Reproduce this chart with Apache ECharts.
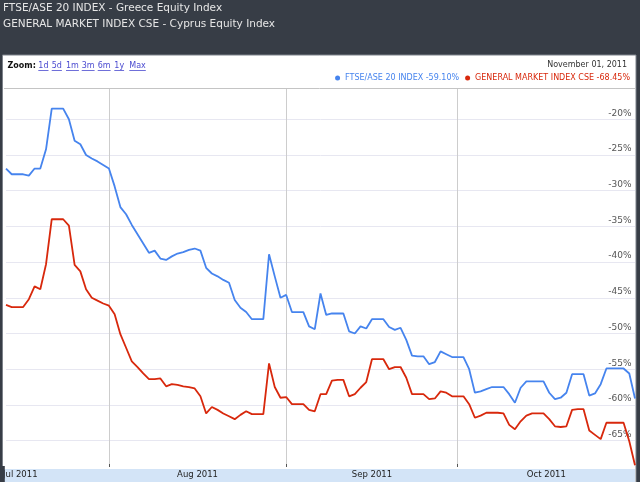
<!DOCTYPE html>
<html><head><meta charset="utf-8">
<script src="https://cdn.jsdelivr.net/npm/echarts@6/dist/echarts.min.js"></script>
<style>html,body{margin:0;padding:0;background:#373d46}#c{width:640px;height:482px}</style>
</head><body><div id="c"></div><script>
// Daily points from Jul 14, 2011 through Nov 1, 2011 (x = days since Jul 14, 2011)
const startDay = [2011, 6, 14];
const ftseAse20 = [
  -26.9, -27.7, -27.7, -27.7, -27.9, -26.9, -26.9, -24.2, -18.5, -18.5,
  -18.5, -20.0, -23.0, -23.5, -25.0, -25.5, -25.9, -26.4, -26.9, -29.4,
  -32.3, -33.3, -34.8, -36.1, -37.4, -38.7, -38.4, -39.5, -39.7, -39.2,
  -38.8, -38.6, -38.3, -38.1, -38.4, -40.8, -41.6, -42.0, -42.5, -42.9,
  -45.3, -46.4, -47.0, -48.0, -48.0, -48.0, -38.9, -42.0, -45.0, -44.6,
  -47.0, -47.0, -47.0, -49.0, -49.4, -44.4, -47.4, -47.2, -47.2, -47.2,
  -49.7, -50.0, -49.0, -49.3, -48.0, -48.0, -48.0, -49.1, -49.5, -49.2,
  -50.9, -53.1, -53.2, -53.2, -54.3, -54.0, -52.5, -52.9, -53.3, -53.3,
  -53.3, -55.0, -58.3, -58.1, -57.8, -57.5, -57.5, -57.5, -58.5, -59.7,
  -57.6, -56.7, -56.7, -56.7, -56.7, -58.3, -59.2, -59.0, -58.3, -55.7,
  -55.7, -55.7, -58.7, -58.4, -57.1, -54.9, -54.9, -54.9, -54.9, -55.6, -59.1
];
const cyprusGeneral = [
  -46.0, -46.3, -46.3, -46.3, -45.2, -43.4, -43.8, -40.3, -34.0, -34.0,
  -34.0, -34.9, -40.4, -41.3, -43.8, -45.0, -45.4, -45.8, -46.1, -47.3,
  -50.1, -52.0, -53.9, -54.7, -55.6, -56.4, -56.4, -56.3, -57.4, -57.1,
  -57.2, -57.4, -57.5, -57.7, -58.8, -61.2, -60.3, -60.7, -61.2, -61.6,
  -62.0, -61.4, -60.9, -61.3, -61.3, -61.3, -54.2, -57.5, -59.0, -58.9,
  -59.9, -59.9, -59.9, -60.7, -60.9, -58.5, -58.5, -56.6, -56.5, -56.5,
  -58.8, -58.5, -57.6, -56.8, -53.6, -53.6, -53.6, -55.0, -54.7, -54.7,
  -56.2, -58.5, -58.5, -58.5, -59.2, -59.1, -58.1, -58.3, -58.8, -58.8,
  -58.8, -59.9, -61.8, -61.5, -61.1, -61.1, -61.1, -61.2, -62.8, -63.4,
  -62.3, -61.5, -61.2, -61.2, -61.2, -62.0, -63.0, -63.1, -63.0, -60.7,
  -60.6, -60.6, -63.6, -64.2, -64.8, -62.5, -62.5, -62.5, -62.5, -65.1, -68.45
];
const seriesNames = ['FTSE/ASE 20 INDEX', 'GENERAL MARKET INDEX CSE'];
const seriesChanges = ['-59.10%', '-68.45%'];
const headerLines = ['FTSE/ASE 20 INDEX - Greece Equity Index', 'GENERAL MARKET INDEX CSE - Cyprus Equity Index'];
const dateText = 'November 01, 2011';
const zoomLinks = ['1d', '5d', '1m', '3m', '6m', '1y', 'Max'];
const yTicks = [-20, -25, -30, -35, -40, -45, -50, -55, -60, -65];
const monthStarts = [[2011, 7, 1], [2011, 8, 1], [2011, 9, 1]];
const monthMids = [[2011, 6, 16, 12], [2011, 7, 16, 12], [2011, 8, 16, 0], [2011, 9, 16, 12]];
const monthLabels = ['Jul 2011', 'Aug 2011', 'Sep 2011', 'Oct 2011'];

const DAY = 86400000;
const t0 = Date.UTC(startDay[0], startDay[1], startDay[2]);
const dayIdx = a => (Date.UTC(a[0], a[1], a[2], a[3] || 0) - t0) / DAY;
const days = ftseAse20.map((_, i) => i);
const startTicks = monthStarts.map(dayIdx);
const midTicks = monthMids.map(dayIdx);
const blue = '#4684ee', red = '#d8280c';
const FONT = 'DejaVu Sans';

const zoomX = [38.3, 51.7, 66, 81.7, 97.7, 114.3, 129.3];
const zoomW = [10.2, 10.2, 12.9, 12.9, 12.9, 9.8, 16.5];
const graphics = [
  { type: 'rect', z: -20, shape: { x: 2.5, y: 55, width: 633.5, height: 430 }, style: { fill: '#ffffff', stroke: '#7d828a', lineWidth: 1 } },
  { type: 'line', z: -10, shape: { x1: 4, y1: 88.5, x2: 635, y2: 88.5 }, style: { stroke: '#c4c4c4', lineWidth: 1 } },
  { type: 'rect', z: -10, shape: { x: 4, y: 469, width: 631, height: 13 }, style: { fill: '#d3e4f7' } },
  { type: 'rect', z: 100, shape: { x: 0, y: 466, width: 4.8, height: 16 }, style: { fill: '#373d46' } },
  { type: 'text', x: 7.5, y: 66, style: { text: 'Zoom:', font: 'bold 8px "DejaVu Sans"', fill: '#111', verticalAlign: 'middle' } },
  { type: 'text', x: 627, y: 65, style: { text: dateText, font: '8px "DejaVu Sans"', fill: '#333', align: 'right', verticalAlign: 'middle' } }
];
zoomLinks.forEach((t, i) => {
  graphics.push({ type: 'text', x: zoomX[i], y: 66, style: { text: t, font: '8px "DejaVu Sans"', fill: '#4b4bd0', verticalAlign: 'middle' } });
  graphics.push({ type: 'rect', shape: { x: zoomX[i], y: 70, width: zoomW[i], height: 0.8 }, style: { fill: '#4b4bd0' } });
});

const chart = echarts.init(document.getElementById('c'));
chart.setOption({
  animation: false,
  backgroundColor: '#373d46',
  title: {
    text: headerLines.join('\n'), left: 3, top: 1, padding: 0,
    textStyle: { color: '#e6e6e6', fontSize: 10.5, fontFamily: FONT, fontWeight: 'normal', lineHeight: 15.5 }
  },
  legend: {
    right: 10, top: 74, padding: 0, itemWidth: 5, itemHeight: 5, itemGap: 6, icon: 'circle',
    formatter: name => name + ' ' + seriesChanges[seriesNames.indexOf(name)],
    textStyle: { fontSize: 8, fontFamily: FONT },
    data: [
      { name: seriesNames[0], textStyle: { color: blue } },
      { name: seriesNames[1], textStyle: { color: red } }
    ]
  },
  graphic: graphics,
  grid: { left: 4, right: 5, top: 89, bottom: 15 },
  xAxis: {
    type: 'value', min: 0, max: days[days.length - 1],
    axisLine: { show: false },
    axisTick: { show: true, inside: true, length: 3, customValues: startTicks, lineStyle: { color: '#555' } },
    splitLine: { show: true, lineStyle: { color: '#cdcdcd', width: 1 } },
    axisLabel: {
      customValues: midTicks, margin: 3, fontSize: 8.5, fontFamily: FONT, color: '#222', lineHeight: 10,
      formatter: v => { const k = midTicks.findIndex(t => Math.abs(t - Number(v)) < 0.1); return k >= 0 ? monthLabels[k] : ''; }
    }
  },
  yAxis: {
    type: 'value', position: 'right', min: -68.7, max: -15.76,
    axisLine: { show: false },
    axisTick: { show: false, customValues: yTicks },
    splitLine: { show: true, lineStyle: { color: '#e7e7f1', width: 1 } },
    axisLabel: {
      inside: true, customValues: yTicks, margin: 3.5, fontSize: 9, fontFamily: FONT, color: '#555',
      verticalAlign: 'bottom', lineHeight: 10, padding: [0, 0, 1, 0],
      formatter: v => v + '%'
    }
  },
  series: [
    { name: seriesNames[0], type: 'line', showSymbol: false, symbol: 'none', color: blue, lineStyle: { width: 1.8, color: blue },
      data: days.map(i => [i, ftseAse20[i]]) },
    { name: seriesNames[1], type: 'line', showSymbol: false, symbol: 'none', color: red, lineStyle: { width: 1.8, color: red },
      data: days.map(i => [i, cyprusGeneral[i]]) }
  ]
});
</script></body></html>
